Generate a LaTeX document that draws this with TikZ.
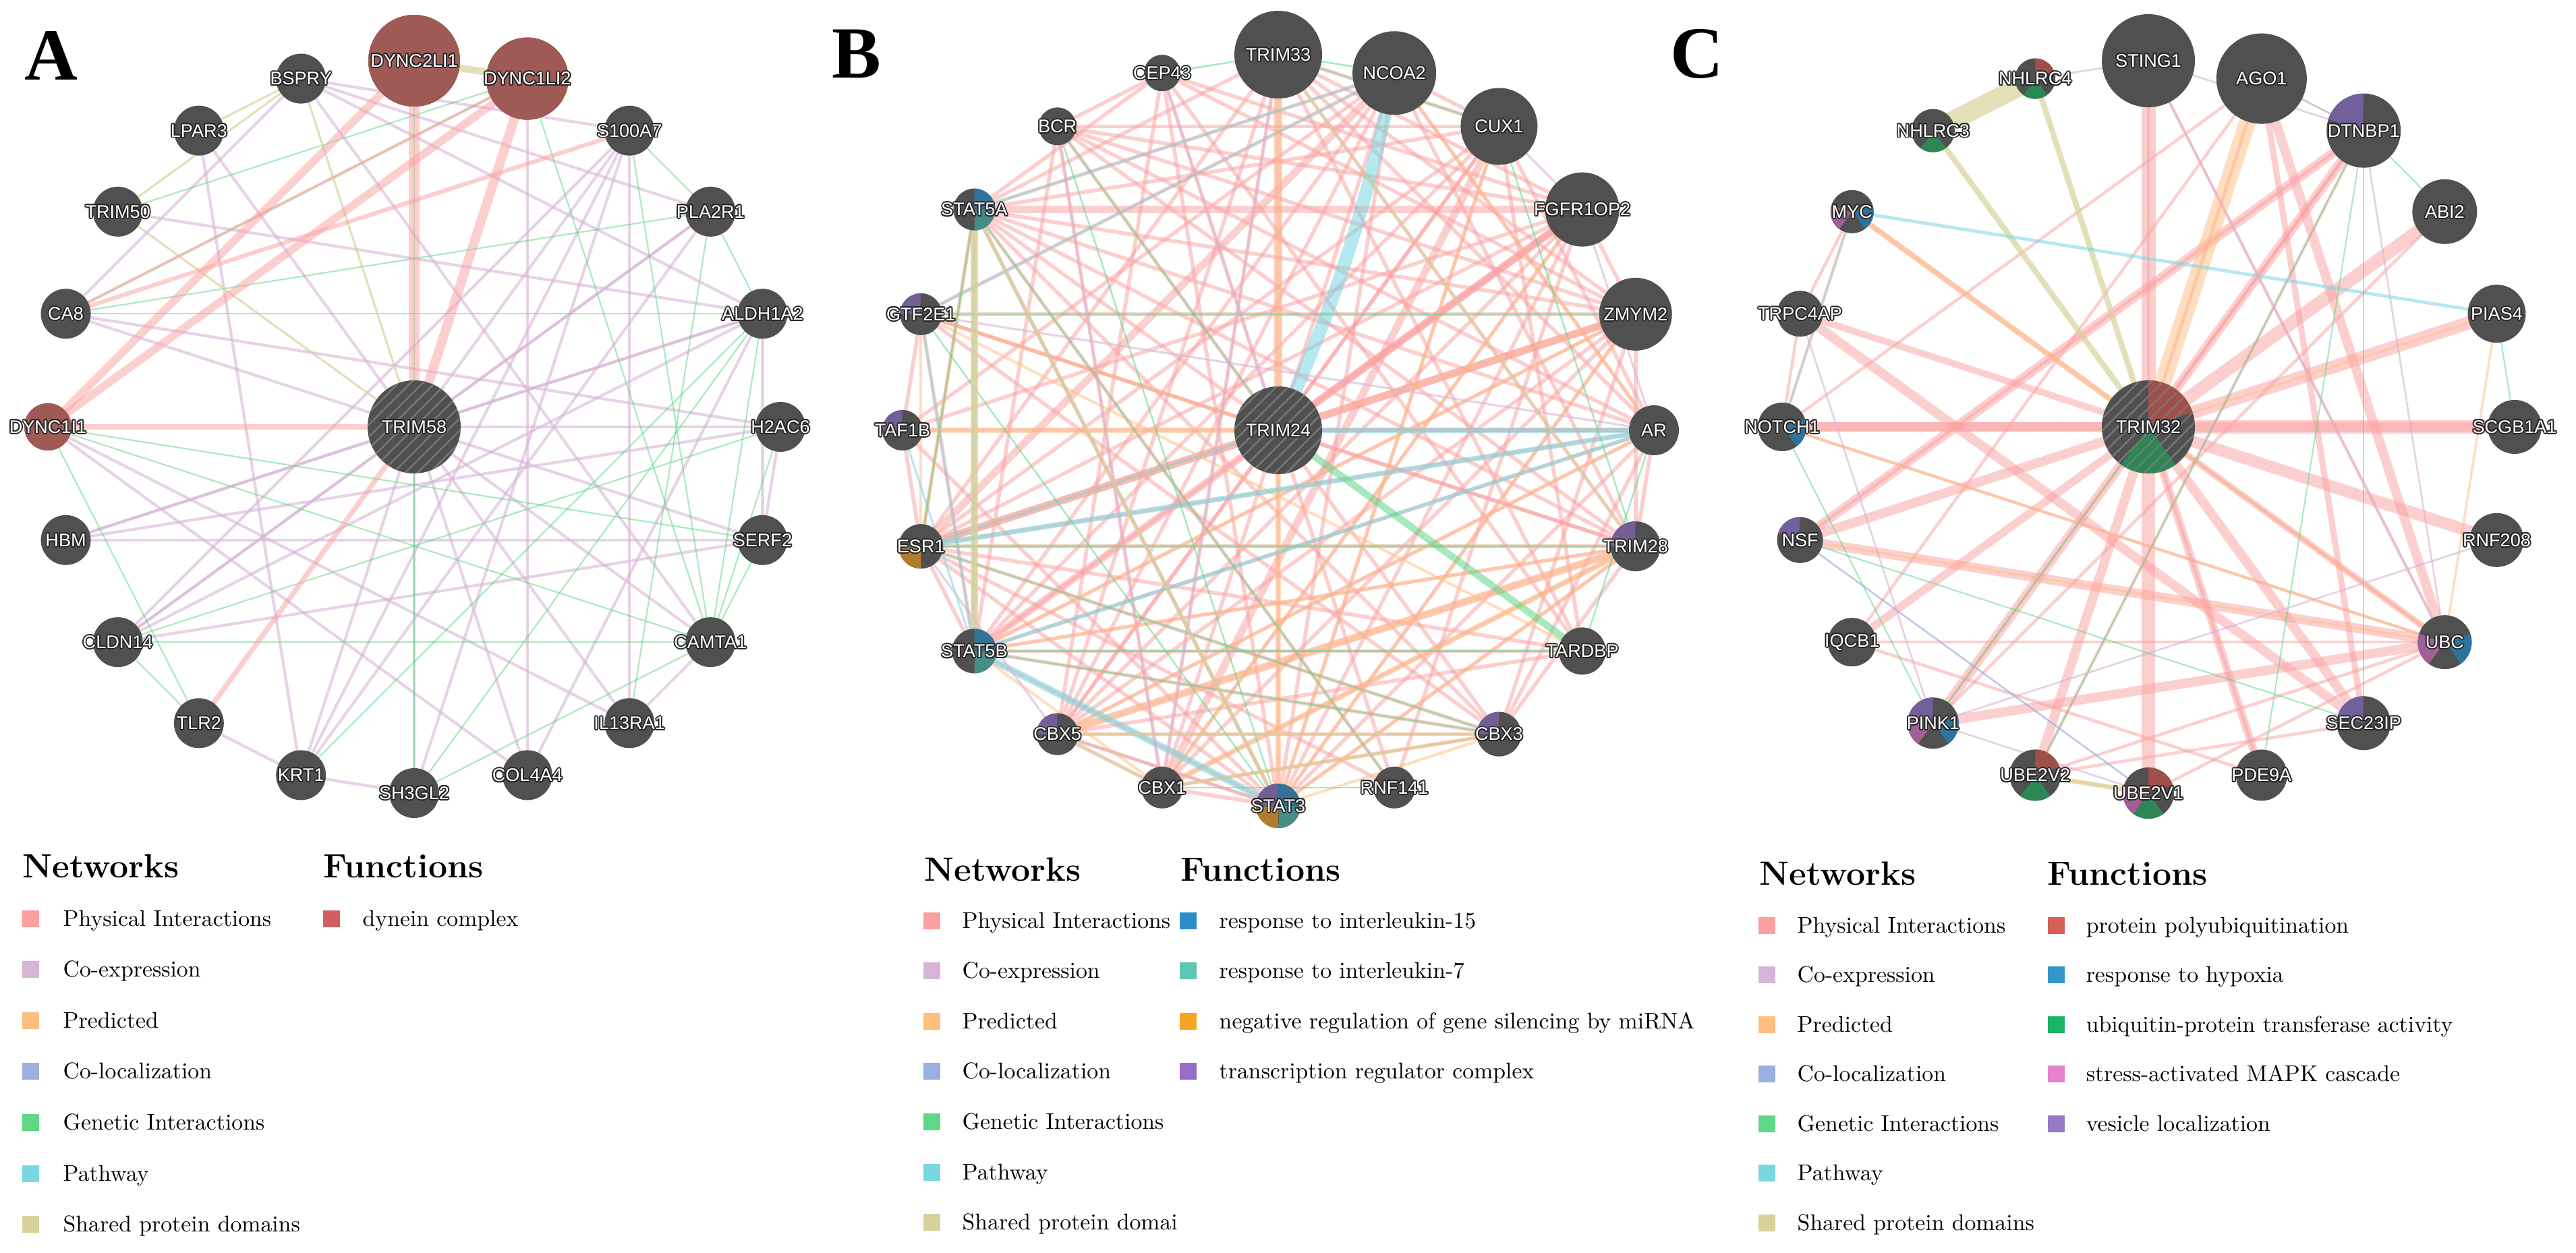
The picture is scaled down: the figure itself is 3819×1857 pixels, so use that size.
\documentclass[tikz,border=0pt]{standalone}
\usepackage{fontspec}
\newfontfamily\lsans{Liberation Sans}
\newfontfamily\tnr{Liberation Serif}
\usetikzlibrary{patterns.meta}
\pgfdeclarelayer{edges}
\pgfdeclarelayer{labels}
\pgfsetlayers{edges,main,labels}
% network colours
\definecolor{cphy}{RGB}{250,160,160}
\definecolor{ccoex}{RGB}{215,180,215}
\definecolor{cpred}{RGB}{253,190,128}
\definecolor{ccol}{RGB}{155,175,225}
\definecolor{cgen}{RGB}{95,215,135}
\definecolor{cpath}{RGB}{120,215,225}
\definecolor{cshd}{RGB}{215,210,155}
% function legend colours
\definecolor{fdyn}{RGB}{208,96,96}
\definecolor{fil15}{RGB}{45,140,200}
\definecolor{fil7}{RGB}{90,200,180}
\definecolor{fmir}{RGB}{245,165,35}
\definecolor{ftrc}{RGB}{150,110,200}
\definecolor{fpoly}{RGB}{215,95,90}
\definecolor{fhyp}{RGB}{50,150,200}
\definecolor{fubq}{RGB}{25,180,100}
\definecolor{fmapk}{RGB}{230,130,205}
\definecolor{fves}{RGB}{150,120,200}
% node pie colours
\definecolor{ngray}{RGB}{80,80,80}
\definecolor{pdyn}{RGB}{160,90,85}
\definecolor{pil15}{RGB}{50,115,150}
\definecolor{pil7}{RGB}{70,140,135}
\definecolor{pmir}{RGB}{175,125,45}
\definecolor{ptrc}{RGB}{115,95,150}
\definecolor{pred}{RGB}{160,80,75}
\definecolor{pblue}{RGB}{45,115,155}
\definecolor{pgreen}{RGB}{45,135,85}
\definecolor{ppink}{RGB}{160,95,150}
\definecolor{ppurp}{RGB}{115,95,155}

\newcommand\halo[1]{{\setbox0=\hbox{#1}%
\color{black!85}%
\rlap{\kern0.55pt\copy0}\rlap{\kern-0.55pt\copy0}%
\rlap{\raise0.55pt\copy0}\rlap{\lower0.55pt\copy0}%
\rlap{\kern0.4pt\raise0.4pt\copy0}\rlap{\kern-0.4pt\raise0.4pt\copy0}%
\rlap{\kern0.4pt\lower0.4pt\copy0}\rlap{\kern-0.4pt\lower0.4pt\copy0}%
\color{white}\box0}}

\tikzset{
 gpt/.style={circle,inner sep=0pt,minimum size=0.5pt,draw=none},
 glab/.style={inner sep=0pt,font=\lsans\fontsize{7.7}{9}\selectfont},
 letter/.style={inner sep=0pt,font=\tnr\bfseries\fontsize{31}{31}\selectfont},
 lhead/.style={anchor=base west,inner sep=0pt,font=\bfseries\fontsize{14.2}{16}\selectfont},
 ltxt/.style={anchor=base west,inner sep=0pt,font=\fontsize{9.6}{11}\selectfont},
 sw/.style={rectangle,inner sep=0pt,minimum size=0.25cm,draw=none},
 ephy/.style={draw=cphy,draw opacity=0.5,line width=#1},ephy/.default=1.2pt,
 ecoex/.style={draw=ccoex,draw opacity=0.6,line width=#1},ecoex/.default=1pt,
 epred/.style={draw=cpred,draw opacity=0.5,line width=#1},epred/.default=1.2pt,
 ecol/.style={draw=ccol,draw opacity=0.7,line width=#1},ecol/.default=0.7pt,
 egen/.style={draw=cgen,draw opacity=0.55,line width=#1},egen/.default=0.6pt,
 epath/.style={draw=cpath,draw opacity=0.55,line width=#1},epath/.default=1pt,
 eshd/.style={draw=cshd,draw opacity=0.7,line width=#1},eshd/.default=1pt
}

\newcommand\gene[5]{%
\node[gpt] (#1) at ({\pcx+\pR*cos(#2)},{\pcy-\pR*sin(#2)}) {};
\fill[ngray] (#1) circle[radius=#3];
#5%
\begin{pgfonlayer}{labels}\node[glab] at (#1) {\halo{#4}};\end{pgfonlayer}}
\newcommand\cgene[4]{%
\node[gpt] (#1) at (\pcx,\pcy) {};
\fill[ngray] (#1) circle[radius=#2];
#4%
\begin{pgfonlayer}{labels}\node[glab] at (#1) {\halo{#3}};\end{pgfonlayer}}
\newcommand\pslice[5]{\fill[#5] (#1) -- ++(#3-90:#2) arc[start angle=#3-90,end angle=#4-90,radius=#2] -- cycle;}
\newcommand\qhatch[2]{\fill[pattern={Lines[angle=45,distance=3.6pt,line width=0.7pt]},pattern color=white!22!ngray] (#1) circle[radius=#2];}

\newcommand\netlegend[6]{%
\foreach \c/\t [count=\i from 0] in {cphy/Physical Interactions,ccoex/Co-expression,cpred/Predicted,ccol/Co-localization,cgen/Genetic Interactions,cpath/Pathway,cshd/#6}{%
\node[sw,fill=\c] (#1n\i) at (#2,{#4+\i*#5}) {};
\node[ltxt] at (#3,{#4+\i*#5+11}) {\t};}}
\newcommand\funlegend[6]{%
\foreach \c/\t [count=\i from 0] in {#6}{%
\node[sw,fill=\c] (#1f\i) at (#2,{#4+\i*#5}) {};
\node[ltxt] at (#3,{#4+\i*#5+11}) {\t};}}

\begin{document}
\begin{tikzpicture}[x=0.01cm,y=-0.01cm]
\useasboundingbox (0,0) rectangle (3819,1857);

% panel letters
\node[letter] (LA) at (76,83) {A};
\node[letter] (LB) at (1270,80) {B};
\node[letter] (LC) at (2516,80) {C};

%================ PANEL A =================
\def\pcx{614}\def\pcy{633}\def\pR{543}
\cgene{TRIM58}{69}{TRIM58}{\qhatch{TRIM58}{69}}
\gene{DYNC2LI1}{90}{68}{DYNC2LI1}{\fill[pdyn] (DYNC2LI1) circle[radius=68];}
\gene{DYNC1LI2}{72}{61}{DYNC1LI2}{\fill[pdyn] (DYNC1LI2) circle[radius=61];}
\gene{S100A7}{54}{37}{S100A7}{}
\gene{PLA2R1}{36}{37}{PLA2R1}{}
\gene{ALDH1A2}{18}{37}{ALDH1A2}{}
\gene{H2AC6}{0}{37}{H2AC6}{}
\gene{SERF2}{-18}{37}{SERF2}{}
\gene{CAMTA1}{-36}{37}{CAMTA1}{}
\gene{IL13RA1}{-54}{37}{IL13RA1}{}
\gene{COL4A4}{-72}{37}{COL4A4}{}
\gene{SH3GL2}{-90}{37}{SH3GL2}{}
\gene{KRT1}{-108}{37}{KRT1}{}
\gene{TLR2}{-126}{37}{TLR2}{}
\gene{CLDN14}{-144}{37}{CLDN14}{}
\gene{HBM}{-162}{37}{HBM}{}
\gene{DYNC1I1}{180}{35}{DYNC1I1}{\fill[pdyn] (DYNC1I1) circle[radius=35];}
\gene{CA8}{162}{37}{CA8}{}
\gene{TRIM50}{144}{37}{TRIM50}{}
\gene{LPAR3}{126}{37}{LPAR3}{}
\gene{BSPRY}{108}{37}{BSPRY}{}

%================ PANEL B =================
\def\pcx{1895}\def\pcy{638}\def\pR{557}
\cgene{TRIM24}{65}{TRIM24}{\qhatch{TRIM24}{65}}
\gene{TRIM33}{90}{65}{TRIM33}{}
\gene{NCOA2}{72}{62}{NCOA2}{}
\gene{CUX1}{54}{57}{CUX1}{}
\gene{FGFR1OP2}{36}{55}{FGFR1OP2}{}
\gene{ZMYM2}{18}{54}{ZMYM2}{}
\gene{AR}{0}{37}{AR}{}
\gene{TRIM28}{-18}{37}{TRIM28}{\pslice{TRIM28}{37}{270}{360}{ptrc}}
\gene{TARDBP}{-36}{35}{TARDBP}{}
\gene{CBX3}{-54}{33}{CBX3}{\pslice{CBX3}{33}{270}{360}{ptrc}}
\gene{RNF141}{-72}{31}{RNF141}{}
\gene{STAT3}{-90}{33}{STAT3}{\pslice{STAT3}{33}{0}{90}{pil15}\pslice{STAT3}{33}{90}{180}{pil7}\pslice{STAT3}{33}{180}{270}{pmir}\pslice{STAT3}{33}{270}{360}{ptrc}}
\gene{CBX1}{-108}{31}{CBX1}{}
\gene{CBX5}{-126}{31}{CBX5}{\pslice{CBX5}{31}{270}{360}{ptrc}}
\gene{STAT5B}{-144}{33}{STAT5B}{\pslice{STAT5B}{33}{0}{90}{pil15}\pslice{STAT5B}{33}{90}{180}{pil7}}
\gene{ESR1}{-162}{33}{ESR1}{\pslice{ESR1}{33}{180}{270}{pmir}}
\gene{TAF1B}{180}{30}{TAF1B}{\pslice{TAF1B}{30}{270}{360}{ptrc}}
\gene{GTF2E1}{162}{31}{GTF2E1}{\pslice{GTF2E1}{31}{270}{360}{ptrc}}
\gene{STAT5A}{144}{31}{STAT5A}{\pslice{STAT5A}{31}{0}{90}{pil15}\pslice{STAT5A}{31}{90}{180}{pil7}}
\gene{BCR}{126}{28}{BCR}{}
\gene{CEP43}{108}{27}{CEP43}{}

%================ PANEL C =================
\def\pcx{3185}\def\pcy{633}\def\pR{543}
\cgene{TRIM32}{69}{TRIM32}{\pslice{TRIM32}{69}{0}{72}{pred}\pslice{TRIM32}{69}{144}{216}{pgreen}\qhatch{TRIM32}{69}}
\gene{STING1}{90}{69}{STING1}{}
\gene{AGO1}{72}{67}{AGO1}{}
\gene{DTNBP1}{54}{55}{DTNBP1}{\pslice{DTNBP1}{55}{288}{360}{ppurp}}
\gene{ABI2}{36}{48}{ABI2}{}
\gene{PIAS4}{18}{43}{PIAS4}{}
\gene{SCGB1A1}{0}{40}{SCGB1A1}{}
\gene{RNF208}{-18}{40}{RNF208}{}
\gene{UBC}{-36}{40}{UBC}{\pslice{UBC}{40}{72}{144}{pblue}\pslice{UBC}{40}{216}{288}{ppink}}
\gene{SEC23IP}{-54}{40}{SEC23IP}{\pslice{SEC23IP}{40}{288}{360}{ppurp}}
\gene{PDE9A}{-72}{38}{PDE9A}{}
\gene{UBE2V1}{-90}{38}{UBE2V1}{\pslice{UBE2V1}{38}{0}{72}{pred}\pslice{UBE2V1}{38}{144}{216}{pgreen}\pslice{UBE2V1}{38}{216}{288}{ppink}}
\gene{UBE2V2}{-108}{38}{UBE2V2}{\pslice{UBE2V2}{38}{0}{72}{pred}\pslice{UBE2V2}{38}{144}{216}{pgreen}}
\gene{PINK1}{-126}{38}{PINK1}{\pslice{PINK1}{38}{72}{144}{pblue}\pslice{PINK1}{38}{216}{288}{ppink}\pslice{PINK1}{38}{288}{360}{ppurp}}
\gene{IQCB1}{-144}{36}{IQCB1}{}
\gene{NSF}{-162}{34}{NSF}{\pslice{NSF}{34}{288}{360}{ppurp}}
\gene{NOTCH1}{180}{36}{NOTCH1}{\pslice{NOTCH1}{36}{72}{144}{pblue}}
\gene{TRPC4AP}{162}{34}{TRPC4AP}{}
\gene{MYC}{144}{32}{MYC}{\pslice{MYC}{32}{72}{144}{pblue}\pslice{MYC}{32}{216}{288}{ppink}}
\gene{NHLRC3}{126}{32}{NHLRC3}{\pslice{NHLRC3}{32}{144}{216}{pgreen}}
\gene{NHLRC4}{108}{30}{NHLRC4}{\pslice{NHLRC4}{30}{0}{72}{pred}\pslice{NHLRC4}{30}{144}{216}{pgreen}}

%================ EDGES =================
\begin{pgfonlayer}{edges}
% ---- A
\foreach \a/\b in {BSPRY/PLA2R1,BSPRY/ALDH1A2,BSPRY/CA8,BSPRY/S100A7,LPAR3/TRIM58,LPAR3/KRT1,CA8/TRIM58,CA8/H2AC6,TRIM50/ALDH1A2,HBM/H2AC6,HBM/ALDH1A2,HBM/SERF2,DYNC1I1/COL4A4,DYNC1I1/IL13RA1,CLDN14/PLA2R1,CLDN14/S100A7,CLDN14/ALDH1A2,TLR2/KRT1,KRT1/S100A7,KRT1/PLA2R1,SH3GL2/KRT1,SH3GL2/S100A7,COL4A4/TRIM58,COL4A4/DYNC1LI2,IL13RA1/TRIM58,IL13RA1/S100A7,CAMTA1/TRIM58,CAMTA1/BSPRY,SERF2/TRIM58,SERF2/CLDN14,H2AC6/TRIM58,H2AC6/SERF2,ALDH1A2/SERF2,ALDH1A2/TRIM58,PLA2R1/TRIM58,S100A7/TRIM58,TRIM58/KRT1,TRIM58/SH3GL2,TRIM58/CLDN14,TRIM58/HBM,COL4A4/ALDH1A2,CAMTA1/IL13RA1}
  \draw[ecoex=1.2pt] (\a)--(\b);
\foreach \a/\b in {DYNC2LI1/SH3GL2,DYNC1LI2/CAMTA1,DYNC1LI2/CA8,CA8/PLA2R1,CA8/ALDH1A2,S100A7/PLA2R1,S100A7/CAMTA1,PLA2R1/ALDH1A2,PLA2R1/IL13RA1,ALDH1A2/KRT1,ALDH1A2/SH3GL2,ALDH1A2/CAMTA1,H2AC6/CAMTA1,H2AC6/CLDN14,DYNC1I1/SERF2,DYNC1I1/CAMTA1,DYNC1I1/TLR2,CLDN14/CAMTA1,CLDN14/TLR2,SH3GL2/CAMTA1,SERF2/CAMTA1,TRIM50/DYNC1LI2}
  \draw[egen=0.6pt] (\a)--(\b);
\draw[eshd=3pt] (DYNC2LI1)--(DYNC1LI2);
\foreach \a/\b in {BSPRY/TRIM58,TRIM50/TRIM58,BSPRY/TRIM50,BSPRY/LPAR3}
  \draw[eshd=0.9pt] (\a)--(\b);
\draw[ephy=4.5pt] (DYNC2LI1)--(TRIM58);
\draw[ephy=4pt] (DYNC1LI2)--(TRIM58);
\draw[ephy=3.4pt] (DYNC2LI1)--(DYNC1I1);
\draw[ephy=3.4pt] (DYNC1LI2)--(DYNC1I1);
\draw[ephy=2.2pt] (DYNC1I1)--(TRIM58);
\draw[ephy=2.2pt] (TLR2)--(TRIM58);
\draw[ephy=1.8pt] (S100A7)--(CA8);
\draw[ephy=1.4pt] (DYNC1LI2)--(CA8);

% ---- B
\foreach \a/\b in {TRIM24/CEP43,TRIM24/BCR,TRIM24/STAT5A,TRIM24/GTF2E1,TRIM24/STAT5B,TRIM24/CBX5,TRIM24/CBX1,TRIM24/STAT3,TRIM24/RNF141,TRIM24/CBX3,TRIM24/TRIM28,TRIM24/FGFR1OP2,TRIM24/CUX1,TRIM24/NCOA2,TRIM24/AR,CEP43/FGFR1OP2,CEP43/ZMYM2,CEP43/STAT5A,CEP43/BCR,CEP43/STAT3,CEP43/CBX5,CEP43/TARDBP,BCR/FGFR1OP2,BCR/CUX1,BCR/STAT5B,BCR/CBX1,BCR/TRIM28,BCR/AR,BCR/ZMYM2,STAT5A/ZMYM2,STAT5A/CUX1,STAT5A/AR,STAT5A/STAT3,STAT5A/TRIM28,STAT5A/NCOA2,STAT5A/TRIM33,STAT5A/CBX3,TRIM33/TRIM28,TRIM33/CBX5,TRIM33/CBX1,TRIM33/ZMYM2,TRIM33/AR,TRIM33/FGFR1OP2,TRIM33/ESR1,TRIM33/CUX1,TRIM33/TARDBP,NCOA2/STAT5B,NCOA2/AR,NCOA2/STAT3,NCOA2/CBX5,NCOA2/TRIM28,NCOA2/CUX1,NCOA2/TAF1B,NCOA2/GTF2E1,CUX1/STAT5B,CUX1/ESR1,CUX1/TARDBP,CUX1/AR,CUX1/CBX5,CUX1/STAT3,FGFR1OP2/ESR1,FGFR1OP2/CBX1,FGFR1OP2/STAT3,FGFR1OP2/RNF141,FGFR1OP2/ZMYM2,FGFR1OP2/CBX5,FGFR1OP2/TAF1B,ZMYM2/STAT5B,ZMYM2/CBX5,ZMYM2/TRIM28,ZMYM2/CBX3,ZMYM2/STAT3,ZMYM2/GTF2E1,ZMYM2/CBX1,AR/ESR1,AR/STAT5B,AR/CBX5,AR/TRIM28,AR/CBX3,AR/STAT3,AR/TAF1B,TRIM28/CBX1,TRIM28/CBX3,TRIM28/STAT3,TRIM28/ESR1,TRIM28/STAT5B,TRIM28/GTF2E1,TARDBP/STAT5B,TARDBP/ESR1,TARDBP/CBX5,CBX3/CBX5,CBX3/CBX1,CBX3/STAT5B,CBX3/ESR1,CBX1/CBX5,CBX1/STAT3,STAT3/ESR1,STAT3/STAT5B,STAT3/CBX5,ESR1/STAT5B,ESR1/STAT5A,GTF2E1/TAF1B,GTF2E1/STAT5B,TAF1B/ESR1,TAF1B/STAT3,RNF141/STAT5A,RNF141/ESR1,GTF2E1/CBX3}
  \draw[ephy=1.6pt] (\a)--(\b);
\foreach \a/\b in {TRIM24/TRIM33,TRIM24/ZMYM2,TRIM24/ESR1,STAT5A/FGFR1OP2,NCOA2/ESR1,TRIM28/CBX5,FGFR1OP2/STAT5B,ZMYM2/ESR1,CUX1/CBX1,FGFR1OP2/TRIM24}
  \draw[ephy=3.2pt] (\a)--(\b);
\foreach \a/\b in {ESR1/TRIM28,ESR1/ZMYM2,CBX5/CBX3,CBX5/STAT3,CBX1/CBX3,STAT3/TRIM28,STAT3/CBX3,CUX1/STAT3,NCOA2/AR,STAT5B/ZMYM2,GTF2E1/TRIM24,GTF2E1/TARDBP,STAT5A/ESR1,STAT5B/TRIM28,CBX5/AR,CBX1/FGFR1OP2,STAT5B/CBX1,STAT3/ZMYM2,GTF2E1/ESR1}
  \draw[epred=1.2pt] (\a)--(\b);
\foreach \a/\b in {TAF1B/TRIM24,STAT5A/STAT5B,CBX5/TRIM28,CBX1/TRIM28,TRIM33/STAT3}
  \draw[epred=2.4pt] (\a)--(\b);
\draw[epath=5.5pt] (TRIM24) to[bend right=6] (NCOA2);
\draw[epath=2.2pt] (ESR1)--(AR);
\draw[epath=3pt] (STAT5B)--(STAT3);
\draw[epath=2pt] (TRIM24)--(AR);
\draw[epath=1.6pt] (STAT5B)--(AR);
\foreach \a/\b in {STAT5A/STAT5B,GTF2E1/STAT5B,GTF2E1/NCOA2,ESR1/TRIM24,TAF1B/STAT5B,STAT5A/NCOA2}
  \draw[epath=0.9pt] (\a)--(\b);
\draw[egen=3pt] (TRIM24)--(TARDBP);
\foreach \a/\b in {CEP43/TRIM33,TRIM33/NCOA2,STAT5A/RNF141,GTF2E1/STAT3,BCR/TRIM24,ESR1/TRIM28,STAT5B/CBX3,CBX1/RNF141,ESR1/CBX3,GTF2E1/ZMYM2,BCR/STAT3,TRIM33/CUX1,CUX1/TRIM28,AR/TARDBP,STAT5A/ESR1,STAT5B/TARDBP}
  \draw[egen=0.7pt] (\a)--(\b);
\foreach \a/\b in {GTF2E1/AR,CEP43/TRIM24,BCR/CBX1,STAT5A/STAT3,CBX5/ESR1,TRIM33/CBX1,CUX1/FGFR1OP2,FGFR1OP2/AR,CBX5/STAT3}
  \draw[ecoex=0.9pt] (\a)--(\b);
\draw[eshd=3pt] (STAT5A)--(STAT5B);
\draw[eshd=1.6pt] (STAT5A)--(STAT3);
\foreach \a/\b in {CBX5/CBX1,CBX5/CBX3,CBX1/CBX3,TRIM33/TRIM28}
  \draw[eshd=1pt] (\a)--(\b);

% ---- C
\foreach \a/\w in {STING1/6pt,ABI2/5.5pt,PIAS4/5.5pt,SCGB1A1/5.5pt,RNF208/5pt,UBE2V1/5.5pt,DTNBP1/4pt,SEC23IP/4pt,UBE2V2/4pt,PINK1/4pt,NSF/4pt,NOTCH1/4pt,PDE9A/3.4pt,IQCB1/3.4pt,UBC/2.8pt,TRPC4AP/2.8pt,MYC/2pt,AGO1/1.4pt}
  \draw[ephy=\w] (TRIM32)--(\a);
\foreach \a/\b in {TRIM32/UBC,TRIM32/DTNBP1,TRIM32/STING1,TRIM32/PDE9A,MYC/NOTCH1,MYC/TRPC4AP,TRPC4AP/NOTCH1,NOTCH1/AGO1,NOTCH1/UBC,IQCB1/AGO1,IQCB1/UBC,IQCB1/PDE9A,UBE2V2/UBC,UBE2V1/UBC,DTNBP1/NSF,DTNBP1/PINK1,DTNBP1/UBE2V2,ABI2/PINK1,STING1/UBC,SEC23IP/UBE2V2}
  \draw[ephy=1.3pt] (\a)--(\b);
\foreach \a/\b in {TRPC4AP/SEC23IP,NSF/DTNBP1,NSF/UBC,PINK1/UBC,AGO1/UBC,NOTCH1/SCGB1A1}
  \draw[ephy=4pt] (\a)--(\b);
\draw[ephy=2.6pt] (AGO1)--(SEC23IP);
\draw[epred=7pt] (TRIM32)--(AGO1);
\draw[epred=2.4pt] (TRIM32)--(MYC);
\foreach \a/\b in {TRIM32/PIAS4,TRIM32/UBC,NSF/UBC,NOTCH1/UBC,UBC/PIAS4,UBE2V2/UBE2V1}
  \draw[epred=1pt] (\a)--(\b);
\draw[eshd=8pt] (NHLRC3)--(NHLRC4);
\draw[eshd=2.4pt] (TRIM32)--(NHLRC3);
\draw[eshd=2.4pt] (TRIM32)--(NHLRC4);
\draw[eshd=2pt] (UBE2V2)--(UBE2V1);
\draw[epath=1.4pt] (MYC)--(PIAS4);
\draw[epath=0.6pt] (MYC)--(NOTCH1);
\draw[ecol=0.7pt] (NSF)--(UBE2V1);
\foreach \a/\b in {NSF/SEC23IP,NOTCH1/PINK1,UBE2V2/DTNBP1,PDE9A/DTNBP1,SEC23IP/DTNBP1,AGO1/DTNBP1,DTNBP1/ABI2,PIAS4/SCGB1A1,TRIM32/PINK1}
  \draw[egen=0.6pt] (\a)--(\b);
\foreach \a/\b in {TRPC4AP/PINK1,PINK1/RNF208,PINK1/UBE2V1,UBC/STING1,UBC/DTNBP1,STING1/NHLRC4,STING1/DTNBP1,AGO1/DTNBP1}
  \draw[ecoex=0.8pt] (\a)--(\b);
\end{pgfonlayer}

%================ LEGENDS =================
\node[lhead] (AhN) at (33,1301) {Networks};
\node[lhead] (AhF) at (479,1301) {Functions};
\netlegend{A}{45.5}{93}{1362}{75.6}{Shared protein domains}
\funlegend{A}{491}{537}{1362}{75.6}{fdyn/dynein complex}

\node[lhead] (BhN) at (1370,1306) {Networks};
\node[lhead] (BhF) at (1750,1306) {Functions};
\netlegend{B}{1381}{1426}{1365}{74.6}{Shared protein domai}
\funlegend{B}{1761.5}{1807}{1365}{74.6}{fil15/response to interleukin-15,fil7/response to interleukin-7,fmir/negative regulation of gene silencing by miRNA,ftrc/transcription regulator complex}

\node[lhead] (ChN) at (2608,1312) {Networks};
\node[lhead] (ChF) at (3035,1312) {Functions};
\netlegend{C}{2619.5}{2664}{1372}{73.5}{Shared protein domains}
\funlegend{C}{3048}{3092}{1372}{73.5}{fpoly/protein polyubiquitination,fhyp/response to hypoxia,fubq/ubiquitin-protein transferase activity,fmapk/stress-activated MAPK cascade,fves/vesicle localization}
\end{tikzpicture}
\end{document}
